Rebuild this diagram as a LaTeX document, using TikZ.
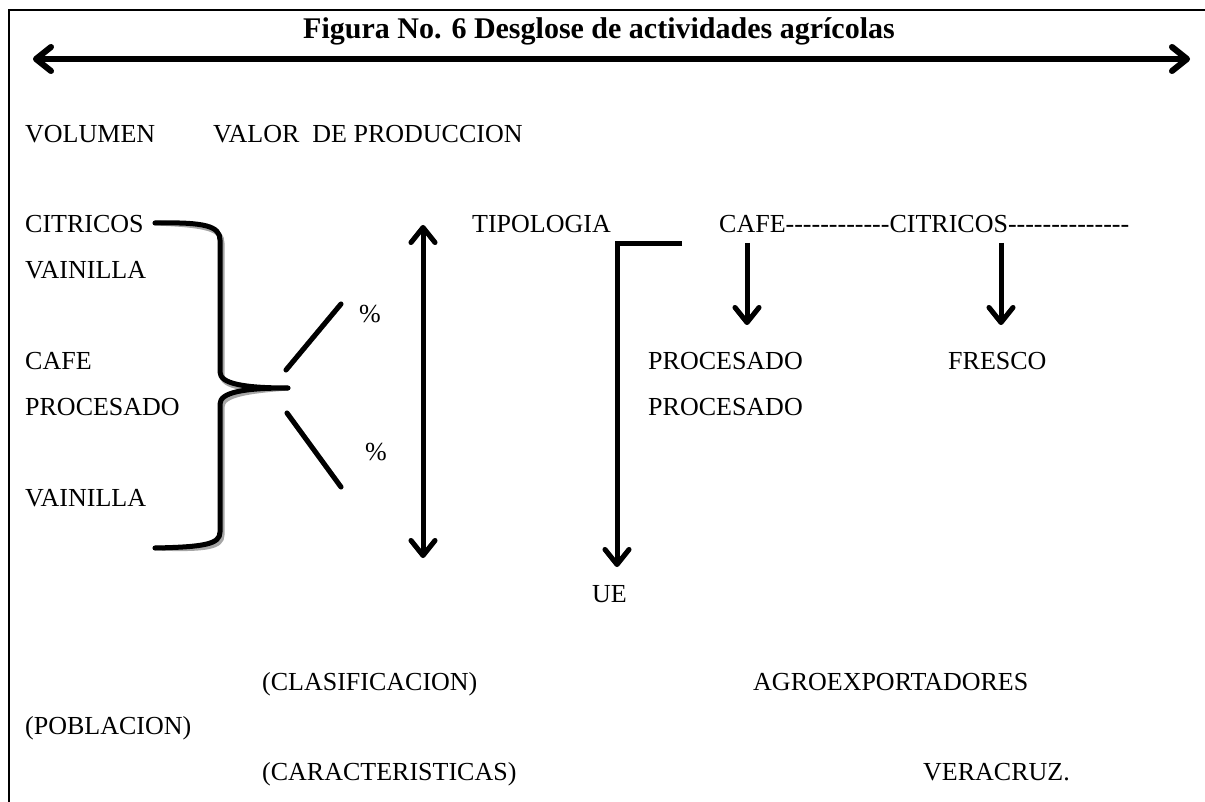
\documentclass[tikz,border=0pt]{standalone}
\usepackage{fontspec}
\setmainfont{Liberation Serif}
\usetikzlibrary{arrows.meta}
\newcommand\shpath[2]{%
  \draw[#1,draw=black!35,shift={(2,3)}] #2;
  \draw[#1] #2;}
\newcommand\hy{-{}}
\begin{document}
\begin{tikzpicture}[x=1pt,y=-1pt]
\useasboundingbox (0,0) rectangle (1205,802);
\tikzset{
  txt/.style={anchor=base west, inner sep=0pt, font=\fontsize{26}{30}\selectfont},
  ttl/.style={anchor=base, inner sep=0pt, font=\fontsize{30}{34}\selectfont\bfseries},
  heavy/.style={line width=5pt, line cap=round, line join=round},
  heavier/.style={line width=6pt, line cap=round, line join=round},
  barb/.tip={Straight Barb[length=15pt,width=24pt,line cap=round,line join=round]},
  frame/.style={line width=2pt}
}
% frame
\coordinate (fb) at (9,802);
\coordinate (ftl) at (9,10);
\coordinate (ftr) at (1205,10);
\draw[frame] (fb) -- (ftl) -- (ftr);
% title
\node[ttl] (title) at (599,39) {Figura No. 6 Desglose de actividades agrícolas};
\coordinate (la) at (33,59);
\coordinate (ra) at (1190,59);
\shpath{heavier,barb-barb}{(la) -- (ra)}
% texts
\node[txt] (vol) at (25,143) {VOLUMEN};
\node[txt] (val) at (213,143) {VALOR\ \ DE PRODUCCION};
\node[txt] (cit) at (25,233) {CITRICOS};
\node[txt] (vai1) at (25,278.5) {VAINILLA};
\node[txt] (caf) at (25,369.5) {CAFE};
\node[txt] (pro) at (25,415) {PROCESADO};
\node[txt] (vai2) at (25,506) {VAINILLA};
\node[txt] (pc1) at (359,323) {\%};
\node[txt] (pc2) at (365,460) {\%};
\node[txt] (tip) at (472,233) {TIPOLOGIA};
\node[txt] (cafcit) at (719,233) {CAFE\hy\hy\hy\hy\hy\hy\hy\hy\hy\hy\hy\hy CITRICOS\hy\hy\hy\hy\hy\hy\hy\hy\hy\hy\hy\hy\hy\hy};
\node[txt] (proA) at (648,369.5) {PROCESADO};
\node[txt] (fre) at (948,369.5) {FRESCO};
\node[txt] (proB) at (648,415) {PROCESADO};
\node[txt] (ue) at (592,602) {UE};
\node[txt] (cla) at (262,690) {(CLASIFICACION)};
\node[txt] (agr) at (753,690) {AGROEXPORTADORES};
\node[txt] (pob) at (25,734) {(POBLACION)};
\node[txt] (car) at (262,780) {(CARACTERISTICAS)};
\node[txt] (ver) at (923,780) {VERACRUZ.};
% brace
\coordinate (bt) at (155,223);
\coordinate (bm) at (288,388);
\coordinate (bb) at (155,548);
\shpath{heavy}{(bt) .. controls (205,222) and (220,226) .. (220,240) -- (220,372) .. controls (220,384) and (245,388) .. (bm) .. controls (245,388) and (220,392) .. (220,404) -- (220,532) .. controls (220,544) and (205,547) .. (bb)}
% diagonals
\coordinate (d1a) at (286,370);
\coordinate (d1b) at (341,304);
\coordinate (d2a) at (287,413);
\coordinate (d2b) at (341,487);
\shpath{heavy}{(d1a) -- (d1b)}
\shpath{heavy}{(d2a) -- (d2b)}
% vertical double arrow
\coordinate (va) at (423,225);
\coordinate (vb) at (423,558);
\shpath{heavy,barb-barb}{(va) -- (vb)}
% L arrow
\coordinate (l1) at (682,244);
\coordinate (l2) at (617,244);
\coordinate (l3) at (617,567);
\shpath{heavy,line cap=butt,line join=miter,-barb}{(l1) -- (l2) -- (l3)}
% small arrows
\coordinate (s1a) at (747,243);
\coordinate (s1b) at (747,325);
\coordinate (s2a) at (1001,243);
\coordinate (s2b) at (1001,325);
\shpath{heavy,line cap=butt,-barb}{(s1a) -- (s1b)}
\shpath{heavy,line cap=butt,-barb}{(s2a) -- (s2b)}
\end{tikzpicture}
\end{document}
